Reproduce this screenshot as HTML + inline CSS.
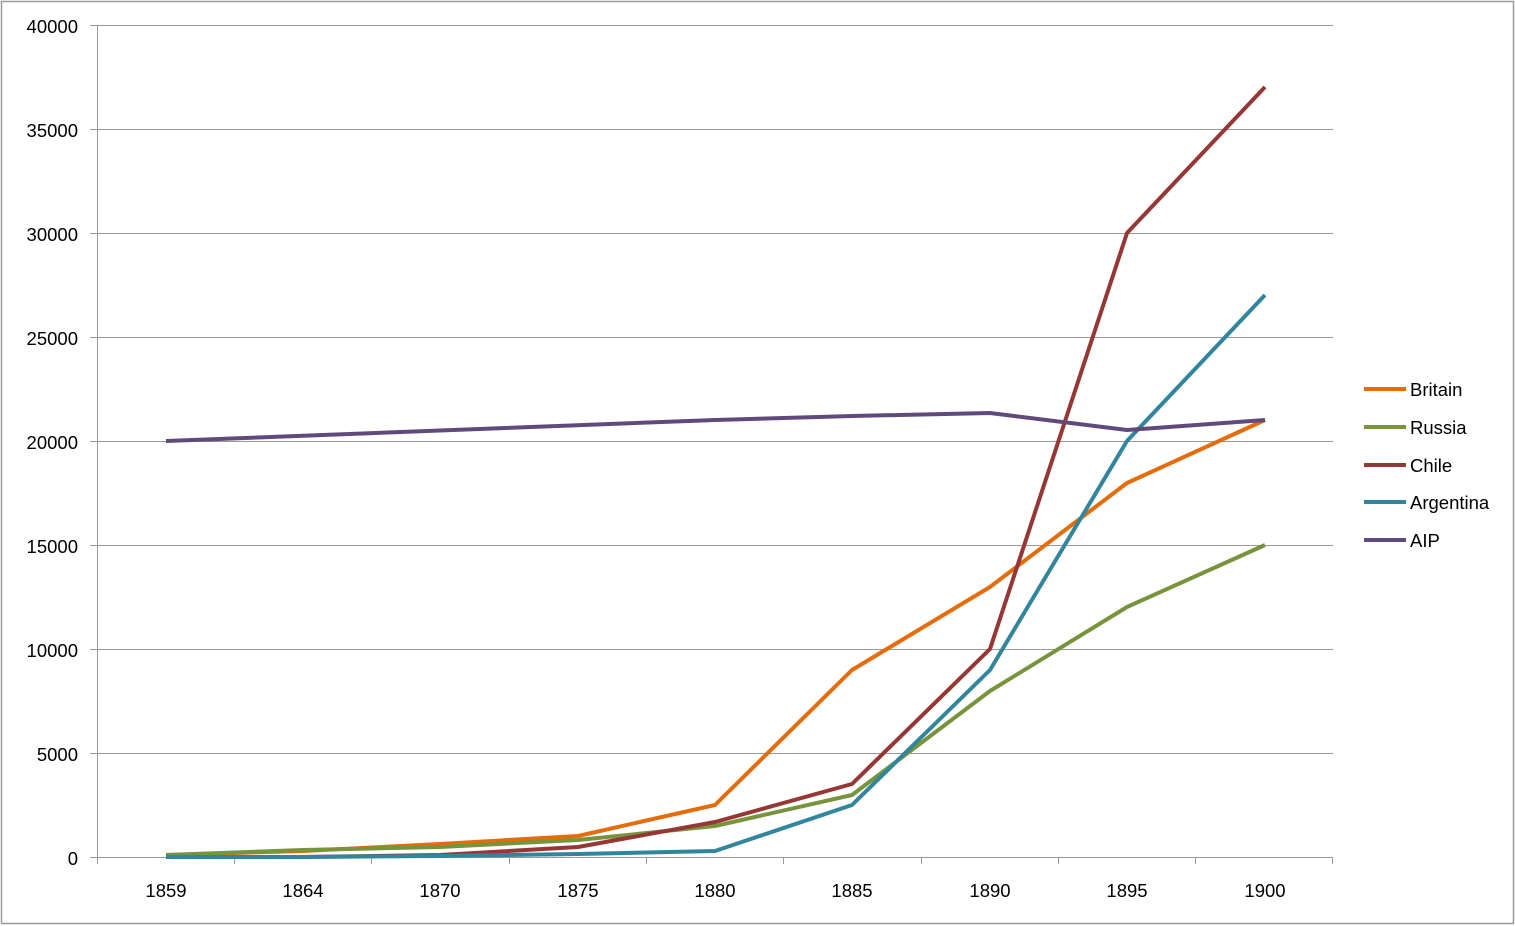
<!DOCTYPE html>
<html><head><meta charset="utf-8"><style>
body{margin:0;background:#fff}
svg{display:block}
text{font-family:"Liberation Sans",sans-serif;font-size:18.5px;fill:#000}
</style></head><body>
<svg width="1515" height="926" viewBox="0 0 1515 926">
<rect x="1.5" y="1.5" width="1512" height="922" fill="#fff" stroke="#999" stroke-width="1.5"/>
<g stroke="#999" stroke-width="1">
<line x1="97" y1="25.5" x2="1333" y2="25.5"/>
<line x1="97" y1="129.5" x2="1333" y2="129.5"/>
<line x1="97" y1="233.5" x2="1333" y2="233.5"/>
<line x1="97" y1="337.5" x2="1333" y2="337.5"/>
<line x1="97" y1="441.5" x2="1333" y2="441.5"/>
<line x1="97" y1="545.5" x2="1333" y2="545.5"/>
<line x1="97" y1="649.5" x2="1333" y2="649.5"/>
<line x1="97" y1="753.5" x2="1333" y2="753.5"/>
<line x1="90" y1="857.5" x2="1333" y2="857.5"/>
<line x1="90" y1="25.5" x2="97" y2="25.5"/>
<line x1="90" y1="129.5" x2="97" y2="129.5"/>
<line x1="90" y1="233.5" x2="97" y2="233.5"/>
<line x1="90" y1="337.5" x2="97" y2="337.5"/>
<line x1="90" y1="441.5" x2="97" y2="441.5"/>
<line x1="90" y1="545.5" x2="97" y2="545.5"/>
<line x1="90" y1="649.5" x2="97" y2="649.5"/>
<line x1="90" y1="753.5" x2="97" y2="753.5"/>
<line x1="97.5" y1="25" x2="97.5" y2="864"/>
<line x1="234.5" y1="857" x2="234.5" y2="864"/>
<line x1="371.5" y1="857" x2="371.5" y2="864"/>
<line x1="509.5" y1="857" x2="509.5" y2="864"/>
<line x1="646.5" y1="857" x2="646.5" y2="864"/>
<line x1="783.5" y1="857" x2="783.5" y2="864"/>
<line x1="921.5" y1="857" x2="921.5" y2="864"/>
<line x1="1058.5" y1="857" x2="1058.5" y2="864"/>
<line x1="1195.5" y1="857" x2="1195.5" y2="864"/>
<line x1="1332.5" y1="857" x2="1332.5" y2="864"/>
</g>
<g text-anchor="end">
<text x="78" y="33">40000</text><text x="78" y="137">35000</text><text x="78" y="241">30000</text>
<text x="78" y="345">25000</text><text x="78" y="449">20000</text><text x="78" y="553">15000</text>
<text x="78" y="657">10000</text><text x="78" y="761">5000</text><text x="78" y="865">0</text>
</g>
<g text-anchor="middle">
<text x="166" y="897">1859</text><text x="303" y="897">1864</text><text x="440" y="897">1870</text>
<text x="578" y="897">1875</text><text x="715" y="897">1880</text><text x="852" y="897">1885</text>
<text x="990" y="897">1890</text><text x="1127" y="897">1895</text><text x="1265" y="897">1900</text>
</g>
<g fill="none" stroke-width="4" stroke-linejoin="round">
<polyline stroke="#E46C0A" points="166,855 303,851 440,844 578,836 715,805 852,670 990,587 1127,483 1265,420"/>
<polyline stroke="#77933C" points="166,855 303,850 440,847 578,840 715,826 852,795 990,691 1127,607 1265,545"/>
<polyline stroke="#953735" points="166,857 303,857 440,855 578,847 715,822 852,784 990,649 1127,233 1265,87"/>
<polyline stroke="#31859C" points="166,857 303,857 440,856 578,854 715,851 852,805 990,670 1127,441 1265,295"/>
<polyline stroke="#604A7B" points="166,441 715,420 852,416 990,413 1127,430 1265,420"/>
</g>
<g stroke-width="4">
<line x1="1364" y1="389" x2="1406" y2="389" stroke="#E46C0A"/>
<line x1="1364" y1="427" x2="1406" y2="427" stroke="#77933C"/>
<line x1="1364" y1="465" x2="1406" y2="465" stroke="#953735"/>
<line x1="1364" y1="502" x2="1406" y2="502" stroke="#31859C"/>
<line x1="1364" y1="540" x2="1406" y2="540" stroke="#604A7B"/>
</g>
<text x="1410" y="396">Britain</text><text x="1410" y="434">Russia</text><text x="1410" y="472">Chile</text>
<text x="1410" y="509">Argentina</text><text x="1410" y="547">AIP</text>
</svg>
</body></html>
